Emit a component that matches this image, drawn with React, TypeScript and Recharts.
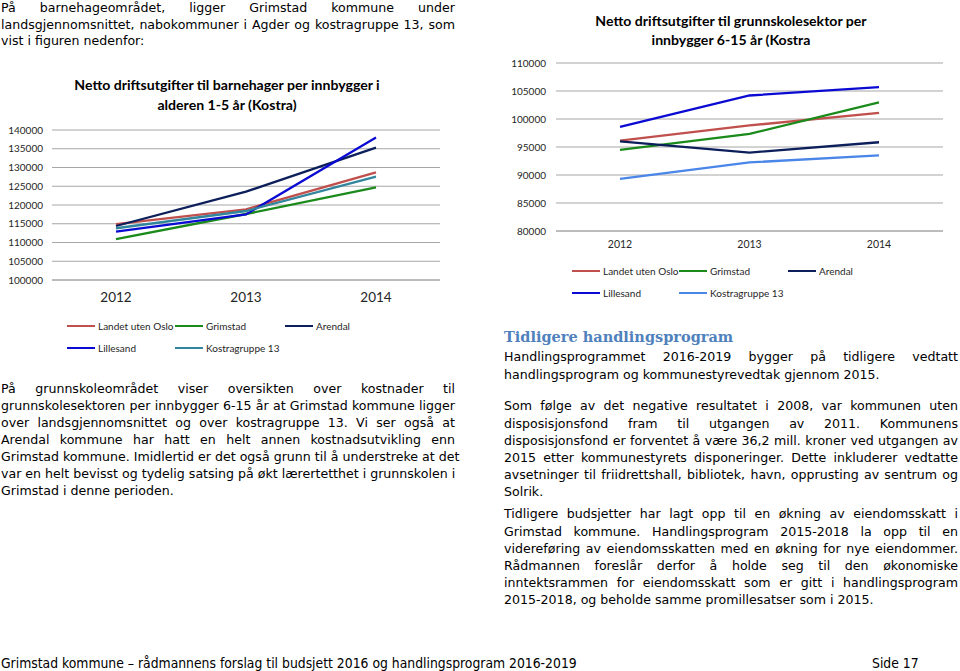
import React from 'react';
import { LineChart, Line, XAxis, YAxis, CartesianGrid, Legend } from 'recharts';

const years = ['2012', '2013', '2014'];
const seriesNames = ['Landet uten Oslo', 'Grimstad', 'Arendal', 'Lillesand', 'Kostragruppe 13'];

// Chart 1: Netto driftsutgifter til barnehager per innbygger 1-5 år
const barnehageLandet = [114900, 118850, 128700];
const barnehageGrimstad = [110900, 117600, 124700];
const barnehageArendal = [114400, 123550, 135300];
const barnehageLillesand = [112900, 117500, 138000];
const barnehageKostra13 = [113800, 118400, 127550];
const barnehageTicks = [100000, 105000, 110000, 115000, 120000, 125000, 130000, 135000, 140000];

// Chart 2: Netto driftsutgifter til grunnskolesektor per innbygger 6-15 år
const grunnskoleLandet = [96150, 98850, 101100];
const grunnskoleGrimstad = [94500, 97350, 102950];
const grunnskoleArendal = [96000, 94000, 95850];
const grunnskoleLillesand = [98600, 104200, 105700];
const grunnskoleKostra13 = [89300, 92250, 93500];
const grunnskoleTicks = [80000, 85000, 90000, 95000, 100000, 105000, 110000];

const barnehageColors = ['#C0504D', '#1A8A1A', '#0C1F5B', '#0A0AD2', '#31859C'];
const grunnskoleColors = ['#C0504D', '#1A8A1A', '#0C1F5B', '#0A0AD2', '#4A86E8'];

const keys = ['landet', 'grimstad', 'arendal', 'lillesand', 'kostra13'];

const buildData = (series: number[][]) =>
  years.map((y, i) => {
    const row: Record<string, any> = { year: y };
    keys.forEach((k, j) => {
      row[k] = series[j][i];
    });
    return row;
  });

const barnehageData = buildData([
  barnehageLandet,
  barnehageGrimstad,
  barnehageArendal,
  barnehageLillesand,
  barnehageKostra13,
]);
const grunnskoleData = buildData([
  grunnskoleLandet,
  grunnskoleGrimstad,
  grunnskoleArendal,
  grunnskoleLillesand,
  grunnskoleKostra13,
]);

const chartFont = 'Lato, "Noto Sans", sans-serif';
const bodyFont = '"DejaVu Sans", Verdana, sans-serif';
const GRID = '#A6A6A6';

const makeLegend = (cols: number[]) => (props: any) => {
  const payload = [...(props.payload || [])].sort(
    (a: any, b: any) => seriesNames.indexOf(a.value) - seriesNames.indexOf(b.value)
  );
  return (
    <div style={{ position: 'relative', width: 340, height: 44 }}>
      {payload.map((p: any, i: number) => {
        const row = Math.floor(i / 3);
        const col = i % 3;
        return (
          <div
            key={p.value}
            style={{
              position: 'absolute',
              left: cols[col],
              top: row * 22,
              height: 20,
              display: 'flex',
              alignItems: 'center',
              fontFamily: chartFont,
              fontSize: 10,
              color: '#262626',
              whiteSpace: 'nowrap',
            }}
          >
            <span
              style={{
                display: 'inline-block',
                width: 28,
                height: 0,
                borderTop: `2.5px solid ${p.color}`,
                marginRight: 3,
              }}
            />
            <span>{p.value}</span>
          </div>
        );
      })}
    </div>
  );
};

type Line5 = { colors: string[] };

const renderLines = ({ colors }: Line5) =>
  keys.map((k, j) => (
    <Line
      key={k}
      type="linear"
      dataKey={k}
      name={seriesNames[j]}
      stroke={colors[j]}
      strokeWidth={2.3}
      dot={false}
      activeDot={false}
      isAnimationActive={false}
    />
  ));

const JLine = ({ text, last }: { text: string; last?: boolean }) => (
  <div
    style={{
      whiteSpace: 'nowrap',
      textAlign: last ? 'left' : 'justify',
      textAlignLast: last ? 'left' : 'justify',
    }}
  >
    {text}
  </div>
);

const Para = ({
  lines,
  left,
  top,
  width,
  lh = 17.2,
}: {
  lines: string[];
  left: number;
  top: number;
  width: number;
  lh?: number;
}) => (
  <div
    style={{
      position: 'absolute',
      left,
      top,
      width,
      fontFamily: bodyFont,
      fontSize: 12.6,
      lineHeight: `${lh}px`,
      color: '#000',
    }}
  >
    {lines.map((t, i) => (
      <JLine key={i} text={t} last={i === lines.length - 1} />
    ))}
  </div>
);

export default function App() {
  return (
    <div
      style={{
        position: 'absolute',
        left: 0,
        top: 0,
        width: 960,
        height: 671,
        background: '#fff',
        overflow: 'hidden',
      }}
    >
      <Para
        left={1}
        top={0}
        width={454}
        lh={16.6}
        lines={[
          'På barnehageområdet, ligger Grimstad kommune under',
          'landsgjennomsnittet, nabokommuner i Agder og kostragruppe 13, som',
          'vist i figuren nedenfor:',
        ]}
      />

      {/* Left chart */}
      <div style={{ position: 'absolute', left: 0, top: 0, width: 470, height: 360 }}>
        <LineChart
          width={470}
          height={360}
          data={barnehageData}
          margin={{ top: 130, right: 30, bottom: 50, left: 0 }}
        >
          <CartesianGrid vertical={false} stroke={GRID} strokeWidth={1} />
          <XAxis
            dataKey="year"
            padding={{ left: 64, right: 64 }}
            axisLine={{ stroke: GRID }}
            tickLine={false}
            tickMargin={6}
            height={30}
            tick={{ fontFamily: chartFont, fontSize: 13.5, fill: '#262626' }}
          />
          <YAxis
            domain={[100000, 140000]}
            ticks={barnehageTicks}
            interval={0}
            width={52}
            axisLine={false}
            tickLine={false}
            tickMargin={3}
            tick={{ fontFamily: chartFont, fontSize: 10, fill: '#262626' }}
          />
          {renderLines({ colors: barnehageColors })}
          <Legend
            layout="horizontal"
            verticalAlign="middle"
            align="center"
            wrapperStyle={{ left: 67, top: 316, width: 340, height: 44 }}
            content={makeLegend([0, 108, 218])}
          />
        </LineChart>
      </div>
      <div
        style={{
          position: 'absolute',
          left: 47,
          top: 75,
          width: 360,
          textAlign: 'center',
          fontFamily: chartFont,
          fontWeight: 700,
          fontSize: 14.1,
          lineHeight: '19.5px',
          color: '#000',
        }}
      >
        Netto driftsutgifter til barnehager per innbygger i
        <br />
        alderen 1-5 år (Kostra)
      </div>

      {/* Right chart */}
      <div style={{ position: 'absolute', left: 480, top: 0, width: 480, height: 310 }}>
        <LineChart
          width={480}
          height={310}
          data={grunnskoleData}
          margin={{ top: 63, right: 17, bottom: 49, left: 0 }}
        >
          <CartesianGrid vertical={false} stroke={GRID} strokeWidth={1} />
          <XAxis
            dataKey="year"
            padding={{ left: 64, right: 64 }}
            axisLine={{ stroke: GRID }}
            tickLine={false}
            tickMargin={4}
            height={30}
            tick={{ fontFamily: chartFont, fontSize: 10.5, fill: '#262626' }}
          />
          <YAxis
            domain={[80000, 110000]}
            ticks={grunnskoleTicks}
            interval={0}
            width={76}
            axisLine={false}
            tickLine={false}
            tickMargin={4}
            tick={{ fontFamily: chartFont, fontSize: 10, fill: '#262626' }}
          />
          {renderLines({ colors: grunnskoleColors })}
          <Legend
            layout="horizontal"
            verticalAlign="middle"
            align="center"
            wrapperStyle={{ left: 92, top: 261, width: 340, height: 44 }}
            content={makeLegend([0, 107, 216])}
          />
        </LineChart>
      </div>
      <div
        style={{
          position: 'absolute',
          left: 551,
          top: 11,
          width: 360,
          textAlign: 'center',
          fontFamily: chartFont,
          fontWeight: 700,
          fontSize: 14.1,
          lineHeight: '19px',
          color: '#000',
        }}
      >
        Netto driftsutgifter til grunnskolesektor per
        <br />
        innbygger 6-15 år (Kostra
      </div>

      <Para
        left={1}
        top={379.5}
        width={454}
        lh={17}
        lines={[
          'På grunnskoleområdet viser oversikten over kostnader til',
          'grunnskolesektoren per innbygger 6-15 år at Grimstad kommune ligger',
          'over landsgjennomsnittet og over kostragruppe 13. Vi ser også at',
          'Arendal kommune har hatt en helt annen kostnadsutvikling enn',
          'Grimstad kommune. Imidlertid er det også grunn til å understreke at det',
          'var en helt bevisst og tydelig satsing på økt lærertetthet i grunnskolen i',
          'Grimstad i denne perioden.',
        ]}
      />

      <div
        style={{
          position: 'absolute',
          left: 504,
          top: 326,
          fontFamily: '"DejaVu Serif", Cambria, serif',
          fontWeight: 700,
          fontSize: 14.5,
          lineHeight: '22px',
          color: '#4F81BD',
          whiteSpace: 'nowrap',
        }}
      >
        Tidligere handlingsprogram
      </div>

      <Para
        left={504}
        top={348.4}
        width={454}
        lines={[
          'Handlingsprogrammet 2016-2019 bygger på tidligere vedtatt',
          'handlingsprogram og kommunestyrevedtak gjennom 2015.',
        ]}
      />
      <Para
        left={504}
        top={397.4}
        width={454}
        lines={[
          'Som følge av det negative resultatet i 2008, var kommunen uten',
          'disposisjonsfond fram til utgangen av 2011. Kommunens',
          'disposisjonsfond er forventet å være 36,2 mill. kroner ved utgangen av',
          '2015 etter kommunestyrets disponeringer. Dette inkluderer vedtatte',
          'avsetninger til friidrettshall, bibliotek, havn, opprusting av sentrum og',
          'Solrik.',
        ]}
      />
      <Para
        left={504}
        top={505.4}
        width={454}
        lines={[
          'Tidligere budsjetter har lagt opp til en økning av eiendomsskatt i',
          'Grimstad kommune. Handlingsprogram 2015-2018 la opp til en',
          'videreføring av eiendomsskatten med en økning for nye eiendommer.',
          'Rådmannen foreslår derfor å holde seg til den økonomiske',
          'inntektsrammen for eiendomsskatt som er gitt i handlingsprogram',
          '2015-2018, og beholde samme promillesatser som i 2015.',
        ]}
      />

      <div
        style={{
          position: 'absolute',
          left: 1,
          top: 654,
          fontFamily: '"DejaVu Sans Condensed", Tahoma, sans-serif',
          fontSize: 13.8,
          lineHeight: '18px',
          color: '#000',
          whiteSpace: 'nowrap',
        }}
      >
        Grimstad kommune – rådmannens forslag til budsjett 2016 og handlingsprogram 2016-2019
      </div>
      <div
        style={{
          position: 'absolute',
          left: 872,
          top: 654,
          fontFamily: '"DejaVu Sans Condensed", Tahoma, sans-serif',
          fontSize: 13.8,
          lineHeight: '18px',
          color: '#000',
          whiteSpace: 'nowrap',
        }}
      >
        Side 17
      </div>
    </div>
  );
}
